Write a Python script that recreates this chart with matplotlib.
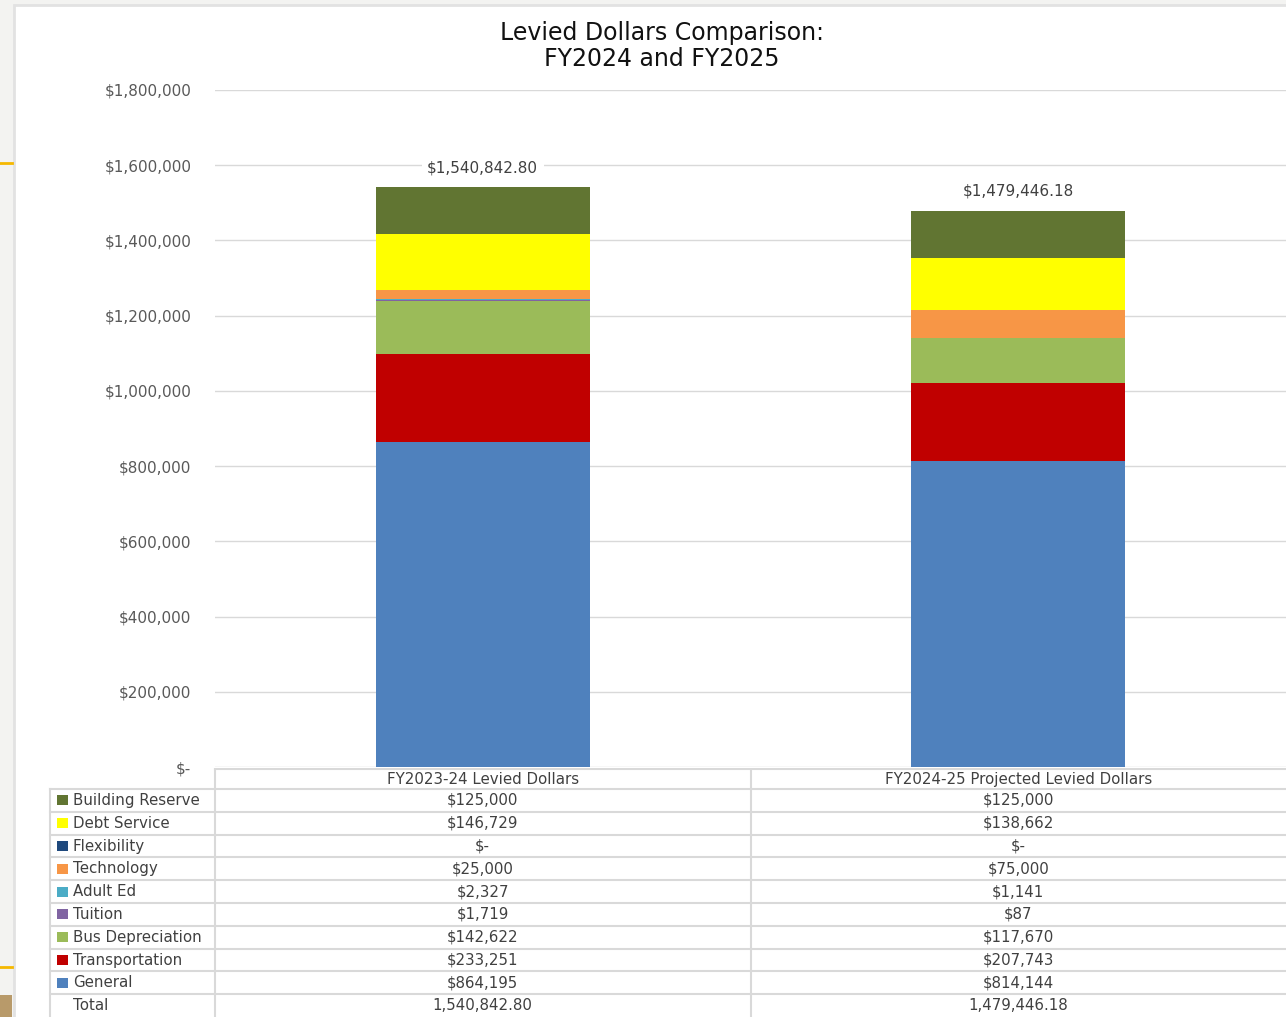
import numpy as np
import matplotlib.pyplot as plt
from matplotlib.patches import Rectangle
from matplotlib.ticker import FuncFormatter

plt.rcParams['font.family'] = ['DejaVu Sans']

categories = ['FY2023-24 Levied Dollars', 'FY2024-25 Projected Levied Dollars']
# stacking order, bottom to top
series = ['General', 'Transportation', 'Bus Depreciation', 'Tuition', 'Adult Ed',
          'Technology', 'Flexibility', 'Debt Service', 'Building Reserve']
fy24 = [864195, 233251, 142622, 1719, 2327, 25000, 0, 146729, 125000]
fy25 = [814144, 207743, 117670, 87, 1141, 75000, 0, 138662, 125000]
totals = [1540842.80, 1479446.18]
colors = ['#4f81bd', '#c00000', '#9bbb59', '#8064a2', '#4bacc6',
          '#f79646', '#1f497d', '#ffff00', '#617532']

W, H = 1286, 1017
fig = plt.figure(figsize=(W / 100, H / 100), dpi=100)
fig.patch.set_facecolor('#f3f3f1')


def fbox(x0, y0, x1, y1):
    # pixel box -> figure fraction [left, bottom, width, height]
    return [x0 / W, 1 - y1 / H, (x1 - x0) / W, (y1 - y0) / H]


# white slide panel + slide decorations
bg = fig.add_axes(fbox(0, 0, W, H), zorder=-5)
bg.set_xlim(0, W)
bg.set_ylim(H, 0)
bg.axis('off')
bg.add_patch(Rectangle((14, 5), W, H, facecolor='white', edgecolor='#e2e2e2', lw=2))
bg.plot([0, 12], [163, 163], color='#f5b800', lw=2)
bg.plot([0, 12], [967, 967], color='#f5b800', lw=2)
bg.add_patch(Rectangle((0, 995), 12, 22, facecolor='#b89a6a', edgecolor='none'))

fig.text(662 / W, 1 - 46 / H, 'Levied Dollars Comparison:\nFY2024 and FY2025',
         ha='center', va='center', fontsize=17, color='#111111', linespacing=1.12)

# main chart
ax = fig.add_axes(fbox(215, 90, W, 767))
data = np.array([fy24, fy25])
x = np.arange(len(categories))
bottom = np.zeros(len(categories))
for i, name in enumerate(series):
    ax.bar(x, data[:, i], width=0.4, bottom=bottom, color=colors[i], zorder=3)
    bottom += data[:, i]
for xi, t in zip(x, totals):
    ax.text(xi, t + 52000, '${:,.2f}'.format(t), ha='center', va='center',
            fontsize=11, color='#404040', zorder=4,
            bbox=dict(facecolor='white', edgecolor='none', pad=4))

ax.set_xlim(-0.5, 1.5)
ax.set_ylim(0, 1800000)
ax.set_yticks(np.arange(0, 1800001, 200000))
ax.yaxis.set_major_formatter(FuncFormatter(lambda v, p: '$-' if v == 0 else '${:,.0f}'.format(v)))
ax.tick_params(axis='y', length=0, pad=17, labelsize=11, labelcolor='#595959')
ax.set_xticks([])
ax.grid(axis='y', color='#d9d9d9', lw=1, zorder=0)
for s in ax.spines.values():
    s.set_visible(False)

# data table below chart
tb = fig.add_axes(fbox(0, 768, W, H))
tb.set_xlim(0, W)
tb.set_ylim(H, 768)
tb.axis('off')
gc = '#d9d9d9'
rows = np.linspace(789, 1017, 11)
col_edges = [215, 750.5, W]
tb.plot([215, W], [768.5, 768.5], color=gc, lw=1.5)
for yy in rows[:-1]:
    tb.plot([50, W], [yy, yy], color=gc, lw=1.5)
tb.plot([50, 50], [789, H], color=gc, lw=1.5)
for cx in col_edges[:2]:
    tb.plot([cx, cx], [768, H], color=gc, lw=1.5)

tc = '#404040'
fs = 10.8
centers = [(col_edges[0] + col_edges[1]) / 2, (col_edges[1] + col_edges[2]) / 2]
for c, cat in zip(centers, categories):
    tb.text(c, 779, cat, ha='center', va='center', fontsize=fs, color=tc)


def money(v):
    return '$-' if v == 0 else '${:,.0f}'.format(v)


table_order = list(range(len(series)))[::-1]
for r, i in enumerate(table_order):
    yc = (rows[r] + rows[r + 1]) / 2
    tb.add_patch(Rectangle((57, yc - 5), 11, 10, facecolor=colors[i], edgecolor='none'))
    tb.text(73, yc, series[i], ha='left', va='center', fontsize=fs, color=tc)
    for c, col in zip(centers, data):
        tb.text(c, yc, money(col[i]), ha='center', va='center', fontsize=fs, color=tc)
yc = (rows[-2] + rows[-1]) / 2
tb.text(73, yc, 'Total', ha='left', va='center', fontsize=fs, color=tc)
for c, t in zip(centers, totals):
    tb.text(c, yc, '{:,.2f}'.format(t), ha='center', va='center', fontsize=fs, color=tc)

fig.savefig('out.png', dpi=100, facecolor=fig.get_facecolor())
